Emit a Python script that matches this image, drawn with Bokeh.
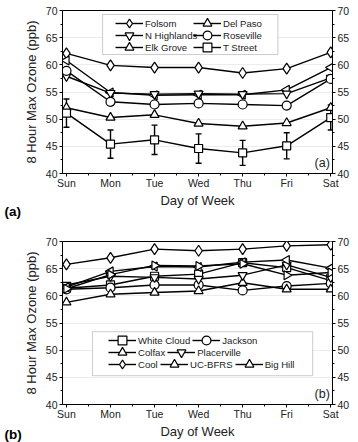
import math
from bokeh.plotting import figure
from bokeh.layouts import column
from bokeh.models import (LinearAxis, FixedTicker, Legend, LegendItem, Label, Title,
                          BoxAnnotation, Whisker, TeeHead, ColumnDataSource)
from bokeh.embed import file_html
from bokeh.resources import INLINE

days = ["Sun", "Mon", "Tue", "Wed", "Thu", "Fri", "Sat"]
y_ticks = [40, 45, 50, 55, 60, 65, 70]

# Panel (a)
folsom = [62.1, 59.9, 59.5, 59.5, 58.5, 59.3, 62.3]
del_paso = [60.8, 54.9, 54.4, 54.5, 54.5, 55.4, 59.5]
n_highlands = [57.9, 54.8, 54.6, 54.7, 54.6, 54.7, 57.6]
roseville = [58.9, 53.2, 52.7, 52.9, 52.7, 52.5, 57.4]
elk_grove = [52.1, 50.3, 50.8, 49.2, 48.7, 49.3, 52.1]
t_street = [51.1, 45.4, 46.2, 44.6, 43.8, 45.1, 50.3]
t_street_err = [2.6, 2.6, 2.7, 2.7, 2.3, 2.4, 2.3]

# Panel (b)
white_cloud = [61.4, 62.0, 63.6, 64.0, 66.1, 65.2, 62.8]
jackson = [61.2, 61.5, 62.0, 62.0, 61.0, 61.8, 62.3]
colfax = [58.8, 60.3, 60.6, 60.9, 62.4, 61.2, 61.2]
placerville = [62.0, 63.6, 63.4, 63.1, 63.8, 65.7, 63.4]
cool = [65.8, 67.0, 68.6, 68.3, 68.6, 69.2, 69.4]
uc_bfrs = [61.6, 64.5, 65.4, 65.3, 66.2, 66.6, 65.1]
big_hill = [61.3, 63.9, 65.6, 65.5, 65.9, 63.8, 64.3]

FONT = "Liberation Sans"
TXT = "#222222"
xs = list(range(len(days)))

MARK = {
    "diamond": dict(marker="diamond", size=11, angle=0.0),
    "left": dict(marker="triangle", size=9, angle=math.pi / 2),
    "right": dict(marker="triangle", size=9, angle=-math.pi / 2),
    "down": dict(marker="inverted_triangle", size=9, angle=0.0),
    "up": dict(marker="triangle", size=9, angle=0.0),
    "circle": dict(marker="circle", size=9, angle=0.0),
    "square": dict(marker="square", size=8, angle=0.0),
}


def make_fig(top, bottom):
    p = figure(width=358, height=221, x_range=(-0.09, 6.04), y_range=(40, 70),
               output_backend="svg", toolbar_location=None,
               min_border_left=62, min_border_right=26,
               min_border_top=top, min_border_bottom=bottom)
    p.outline_line_color = "black"
    p.outline_line_width = 1
    p.xgrid.visible = False
    p.ygrid.grid_line_color = "#ececec"
    p.ygrid.ticker = FixedTicker(ticks=y_ticks)
    right = LinearAxis()
    p.add_layout(right, "right")
    for ax in [p.yaxis[0], right]:
        ax.ticker = FixedTicker(ticks=y_ticks,
                                minor_ticks=[42.5, 47.5, 52.5, 57.5, 62.5, 67.5])
    xa = p.xaxis[0]
    xa.ticker = FixedTicker(ticks=xs, minor_ticks=[0.5, 1.5, 2.5, 3.5, 4.5, 5.5])
    xa.major_label_overrides = {i: d for i, d in enumerate(days)}
    for ax in [xa, p.yaxis[0], right]:
        ax.axis_line_color = "black"
        ax.major_tick_line_color = "black"
        ax.minor_tick_line_color = "black"
        ax.major_tick_out = 3
        ax.major_tick_in = 0
        ax.minor_tick_out = 2
        ax.minor_tick_in = 0
        ax.major_label_text_font = FONT
        ax.major_label_text_font_size = "10.5px"
        ax.major_label_text_color = TXT
        ax.major_label_standoff = 2
        ax.axis_label_text_font = FONT
        ax.axis_label_text_font_size = "13px"
        ax.axis_label_text_font_style = "normal"
        ax.axis_label_text_color = TXT
    xa.major_label_standoff = 0
    p.yaxis[0].axis_label = "8 Hour Max Ozone (ppb)"
    p.yaxis[0].axis_label_standoff = 4
    xa.axis_label = "Day of Week"
    xa.axis_label_standoff = 1
    return p


def add_series(p, ys, kind):
    ln = p.line(xs, ys, line_color="black", line_width=1.4)
    m = MARK[kind]
    sc = p.scatter(xs, ys, marker=m["marker"], size=m["size"], angle=m["angle"],
                   fill_color="white", line_color="black", line_width=1.2)
    return [ln, sc]


def make_legend(items, loc, spacing=0):
    lg = Legend(items=items, orientation="horizontal", location=loc)
    lg.label_text_font = FONT
    lg.label_text_font_size = "9.6px"
    lg.label_text_color = TXT
    lg.glyph_width = 28
    lg.glyph_height = 22
    lg.label_height = 12
    lg.label_standoff = 2
    lg.spacing = spacing
    lg.margin = 0
    lg.padding = 0
    lg.border_line_alpha = 0
    lg.background_fill_alpha = 0
    return lg


def outer_tag(p, text, standoff):
    p.add_layout(Title(text=text, align="left", offset=-58, standoff=standoff,
                       vertical_align="top", text_font=FONT,
                       text_font_size="13.5px", text_font_style="bold",
                       text_color="black"), "below")


# ---------- Panel (a)
pa = make_fig(10, 48)
src = ColumnDataSource(dict(x=xs,
                            lo=[v - e for v, e in zip(t_street, t_street_err)],
                            hi=[v + e for v, e in zip(t_street, t_street_err)]))
pa.add_layout(Whisker(base="x", lower="lo", upper="hi", source=src,
                      line_color="black", line_width=1.4,
                      upper_head=TeeHead(size=6, line_color="black", line_width=1.4),
                      lower_head=TeeHead(size=6, line_color="black", line_width=1.4)))
series_a = [("Folsom", folsom, "diamond"), ("Del Paso", del_paso, "left"),
            ("N Highlands", n_highlands, "down"), ("Roseville", roseville, "circle"),
            ("Elk Grove", elk_grove, "up"), ("T Street", t_street, "square")]
items_a = []
for name, ys, kind in series_a:
    r = add_series(pa, ys, kind)
    items_a.append(LegendItem(label=name, renderers=r))

pa.add_layout(BoxAnnotation(left=0.82, right=4.80, top=69.26, bottom=61.9,
                            fill_color="white", fill_alpha=1.0,
                            line_color="#555555", line_width=1, level="overlay"))
col_x = [53, 131]
row_y = [139, 127, 115]
for i, it in enumerate(items_a):
    pa.add_layout(make_legend([it], (col_x[i % 2], row_y[i // 2])), "center")

pa.add_layout(Label(x=5.98, y=40.6, text="(a)", text_align="right",
                    text_baseline="bottom", text_font=FONT, text_font_size="12.5px",
                    text_color=TXT))
outer_tag(pa, "(a)", -14)

# ---------- Panel (b)
pb = make_fig(20, 38)
series_b = [("White Cloud", white_cloud, "square"), ("Jackson", jackson, "circle"),
            ("Colfax", colfax, "up"), ("Placerville", placerville, "down"),
            ("Cool", cool, "diamond"), ("UC-BFRS", uc_bfrs, "left"),
            ("Big Hill", big_hill, "right")]
items_b = []
for name, ys, kind in series_b:
    r = add_series(pb, ys, kind)
    items_b.append(LegendItem(label=name, renderers=r))

pb.add_layout(BoxAnnotation(left=0.59, right=5.59, top=53.4, bottom=45.3,
                            fill_color="white", fill_alpha=1.0,
                            line_color="#555555", line_width=1, level="overlay"))
rows = [(items_b[0:2], 53), (items_b[2:4], 41), (items_b[4:7], 29)]
for its, yb in rows:
    pb.add_layout(make_legend(its, (46, yb), spacing=2), "center")
pb.add_layout(Label(x=5.98, y=40.6, text="(b)", text_align="right",
                    text_baseline="bottom", text_font=FONT, text_font_size="12.5px",
                    text_color=TXT))
outer_tag(pb, "(b)", -30)

layout = column(pa, pb, spacing=0)
open("out.html", "w").write(file_html(layout, INLINE))
